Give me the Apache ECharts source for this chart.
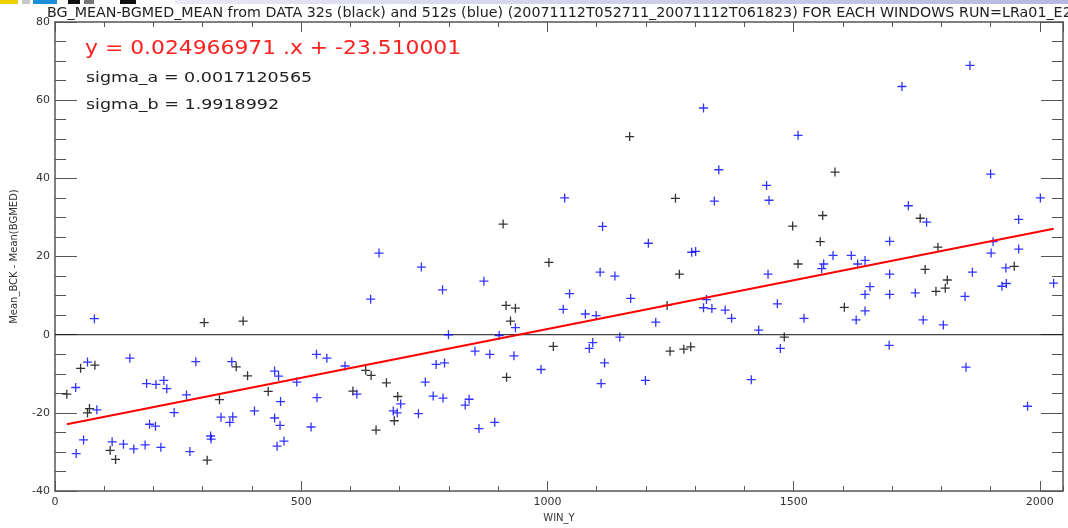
<!DOCTYPE html>
<html>
<head>
<meta charset="utf-8">
<script src="https://cdn.jsdelivr.net/npm/echarts@6/dist/echarts.min.js"></script>
<style>
  html, body { margin: 0; padding: 0; background: #fff; }
  #chart { width: 1068px; height: 528px; }
</style>
</head>
<body>
<div id="chart"></div>
<script>
// 32s data (black crosses): [WIN_Y, mean diff]
const blackPts = [
  [24, -15.2], [52, -8.6], [81, -7.8], [70, -18.9], [66, -20.0], [112, -29.6], [123, -31.9],
  [303, 3.1], [382, 3.5], [368, -8.2], [391, -10.5], [334, -16.6], [309, -32.1], [433, -14.5],
  [631, -9.1], [642, -10.4], [673, -12.3], [605, -14.4], [696, -15.8], [689, -22.0], [652, -24.4],
  [910, 28.3], [916, 7.5], [935, 6.8], [925, 3.5], [1003, 18.5], [1012, -3.0], [917, -10.9],
  [1243, 7.5], [1249, -4.2], [1277, -3.7], [1291, -3.1], [1481, -0.6], [1167, 50.7], [1584, 41.6],
  [1260, 34.9], [1757, 29.8], [1559, 30.5], [1498, 27.8], [1554, 23.8], [1793, 22.4], [1509, 18.1],
  [1767, 16.7], [1948, 17.5], [1268, 15.5], [1812, 14.0], [1808, 11.9], [1789, 11.1], [1603, 7.0]
]

// 512s data (blue crosses)
const bluePts = [
  [80, 4.1], [641, 9.1], [658, 20.9], [744, 17.3], [787, 11.5], [871, 13.7], [799, 0.0], [935, 1.8],
  [902, -0.2], [42, -13.5], [66, -7.0], [152, -6.0], [286, -6.9], [359, -6.9], [446, -9.3], [454, -10.6],
  [491, -12.1], [531, -5.0], [552, -6.0], [589, -8.0], [752, -12.1], [774, -7.6], [791, -7.2],
  [186, -12.5], [205, -12.7], [221, -11.7], [227, -13.8], [267, -15.4], [458, -17.1], [613, -15.2],
  [532, -16.1], [702, -17.7], [768, -15.7], [788, -16.2], [85, -19.2], [242, -19.9], [405, -19.5],
  [687, -19.5], [695, -20.0], [738, -20.2], [192, -22.9], [204, -23.4], [337, -21.1], [355, -22.4],
  [361, -21.0], [446, -21.3], [457, -23.2], [520, -23.6], [58, -26.9], [43, -30.4], [116, -27.4],
  [139, -28.0], [160, -29.2], [183, -28.2], [215, -28.8], [274, -29.9], [316, -25.9], [317, -26.7],
  [451, -28.5], [465, -27.2], [1032, 6.5], [1077, 5.3], [1099, 4.9], [1169, 9.3], [1220, 3.2],
  [1323, 9.0], [1317, 6.9], [1334, 6.7], [1361, 6.3], [1374, 4.2], [1467, 7.9], [1429, 1.2],
  [1521, 4.2], [1473, -3.5], [1147, -0.6], [1085, -3.5], [1092, -2.0], [853, -4.2], [883, -5.0],
  [932, -5.4], [987, -8.9], [1116, -7.2], [1109, -12.5], [1199, -11.7], [1414, -11.5], [833, -18.0],
  [841, -16.5], [861, -24.0], [893, -22.4], [1858, 68.9], [1720, 63.5], [1317, 58.0], [1509, 51.0],
  [1348, 42.2], [1900, 41.1], [1445, 38.2], [1450, 34.4], [1339, 34.2], [2001, 35.0], [1733, 33.0],
  [1770, 28.8], [1112, 27.7], [1957, 29.5], [1205, 23.4], [1695, 23.9], [1905, 23.8], [1901, 20.9],
  [1957, 21.9], [1293, 21.1], [1301, 21.3], [1580, 20.3], [1617, 20.3], [1645, 19.0], [1630, 18.1],
  [1561, 18.1], [1557, 16.9], [1931, 17.1], [1448, 15.5], [1863, 16.0], [1695, 15.5], [2028, 13.2],
  [1655, 12.3], [1645, 10.3], [1695, 10.3], [1747, 10.7], [1848, 9.8], [1923, 12.4], [1932, 13.1],
  [1645, 6.1], [1627, 3.8], [1763, 3.8], [1804, 2.5], [1694, -2.7], [1035, 35.0], [1045, 10.5],
  [1107, 16.0], [1137, 15.0], [1850, -8.3], [1975, -18.3]
]

// linear fit y = a.x + b, drawn across the data range
const fitLine = [[24, -22.9], [2028, 27.1]]

const titleText = 'BG_MEAN-BGMED_MEAN from DATA 32s (black) and 512s (blue) (20071112T052711_20071112T061823) FOR EACH WINDOWS RUN=LRa01_E2'
const fitText = 'y = 0.024966971 .x + -23.510001'
const sigmaA = 'sigma_a = 0.0017120565'
const sigmaB = 'sigma_b = 1.9918992'

const plus = 'path://M0 3.85H3.85V0H5.15V3.85H9V5.15H5.15V9H3.85V5.15H0Z'
const axisCol = '#555'
const font = 'DejaVu Sans'

let myChart = echarts.init(document.getElementById('chart'))

const xCommon = { type: 'value', min: 0, max: 2047, splitLine: { show: false } }
const yCommon = { type: 'value', min: -40, max: 80, splitLine: { show: false } }
const mainLine = { onZero: false, lineStyle: { color: axisCol, width: 1.5 } }
const minorX = (pos) => Object.assign({}, xCommon, {
  position: pos, interval: 100,
  axisLine: { show: false, onZero: false },
  axisTick: { inside: true, length: 5, lineStyle: { color: axisCol } },
  axisLabel: { show: false }
})
const minorY = (pos) => Object.assign({}, yCommon, {
  position: pos, interval: 5,
  axisLine: { show: false, onZero: false },
  axisTick: { inside: true, length: 11, lineStyle: { color: axisCol } },
  axisLabel: { show: false }
})

myChart.setOption({
  animation: false,
  backgroundColor: '#fff',
  grid: { left: 55, right: 5, top: 22, bottom: 31 },
  xAxis: [
    Object.assign({}, xCommon, {
      position: 'bottom', interval: 500,
      name: 'WIN_Y', nameLocation: 'middle', nameGap: 17,
      nameTextStyle: { fontFamily: font, fontSize: 10, color: '#333' },
      axisLine: mainLine,
      axisTick: { inside: true, length: 10, lineStyle: { color: axisCol } },
      axisLabel: { fontFamily: font, fontSize: 11, color: '#333', margin: 6, showMaxLabel: false, formatter: (v) => String(v) }
    }),
    minorX('bottom'),
    Object.assign({}, xCommon, {
      position: 'top', interval: 500,
      axisLine: mainLine,
      axisTick: { inside: true, length: 10, lineStyle: { color: axisCol } },
      axisLabel: { show: false }
    }),
    minorX('top')
  ],
  yAxis: [
    Object.assign({}, yCommon, {
      interval: 20, position: 'left',
      name: 'Mean_BCK - Mean(BGMED)', nameLocation: 'middle', nameGap: 36,
      nameTextStyle: { fontFamily: font, fontSize: 10, color: '#333' },
      axisLine: mainLine,
      axisTick: { inside: true, length: 22, lineStyle: { color: axisCol } },
      axisLabel: { fontFamily: font, fontSize: 11, color: '#333', margin: 5 }
    }),
    minorY('left'),
    Object.assign({}, yCommon, {
      interval: 20, position: 'right',
      axisLine: mainLine,
      axisTick: { inside: true, length: 22, lineStyle: { color: axisCol } },
      axisLabel: { show: false }
    }),
    minorY('right')
  ],
  graphic: [
    // strip of the browser page above the plot
    { type: 'rect', shape: { x: 0, y: 0, width: 18, height: 4 }, style: { fill: '#f0d000' } },
    { type: 'rect', shape: { x: 22, y: 0, width: 8, height: 4 }, style: { fill: '#c8c8c8' } },
    { type: 'rect', shape: { x: 33, y: 0, width: 24, height: 4 }, style: { fill: '#1a8fd8' } },
    { type: 'rect', shape: { x: 68, y: 0, width: 12, height: 4 }, style: { fill: '#111' } },
    { type: 'rect', shape: { x: 84, y: 0, width: 10, height: 4 }, style: { fill: '#777' } },
    { type: 'rect', shape: { x: 120, y: 0, width: 16, height: 4 }, style: { fill: '#111' } },
    {
      type: 'rect', shape: { x: 175, y: 0, width: 893, height: 4 },
      style: { fill: new echarts.graphic.LinearGradient(0, 0, 1, 0, [{ offset: 0, color: '#e8e8f6' }, { offset: 1, color: '#b8b8e0' }]) }
    },
    { type: 'text', x: 47, y: 6, scaleX: 1.02, style: { text: titleText, fill: '#222', font: '14px "DejaVu Sans"' } },
    { type: 'text', x: 85, y: 40, scaleX: 1.15, style: { text: fitText, fill: '#ff2020', font: '19px "DejaVu Sans"' } },
    { type: 'text', x: 86, y: 71, scaleX: 1.25, style: { text: sigmaA, fill: '#222', font: '14px "DejaVu Sans"' } },
    { type: 'text', x: 86, y: 98, scaleX: 1.25, style: { text: sigmaB, fill: '#222', font: '14px "DejaVu Sans"' } }
  ],
  series: [
    {
      name: 'zero',
      type: 'line',
      data: [[0, 0], [2047, 0]],
      symbol: 'none',
      lineStyle: { color: '#111', width: 1 },
      z: 1
    },
    {
      name: '32s',
      type: 'scatter',
      data: blackPts,
      symbol: plus,
      symbolSize: 9,
      itemStyle: { color: '#000' },
      z: 3
    },
    {
      name: '512s',
      type: 'scatter',
      data: bluePts,
      symbol: plus,
      symbolSize: 9,
      itemStyle: { color: '#0000ff' },
      z: 3
    },
    {
      name: 'fit',
      type: 'line',
      data: fitLine,
      symbol: 'none',
      lineStyle: { color: '#ff0000', width: 2 },
      z: 4
    }
  ]
})
</script>
</body>
</html>
